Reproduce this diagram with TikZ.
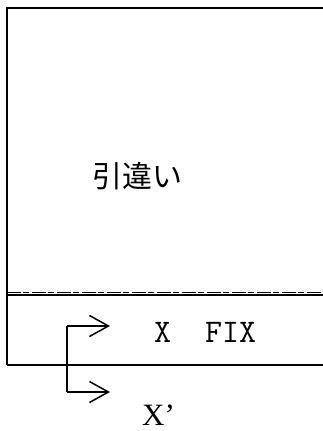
\documentclass[tikz,border=0pt]{standalone}
\usepackage{fontspec}
\setmainfont{Liberation Serif}
\newfontfamily\jpfont{Noto Sans CJK JP}
\usetikzlibrary{arrows.meta}
\begin{document}
\begin{tikzpicture}[x=1pt,y=-1pt,
  frame/.style={line width=1.8pt},
  sepline/.style={line width=1.6pt},
  shaft/.style={line width=1.3pt},
  arr/.style={shaft,-{Straight Barb[length=19pt,width=21pt,line width=1.5pt]}},
  lbl/.style={inner sep=0pt,anchor=base west}]
\useasboundingbox (0,0) rectangle (323,431);
\coordinate (tl) at (7,8);
\coordinate (tr) at (323,8);
\coordinate (bl) at (7,365);
\coordinate (br) at (323,365);
\coordinate (sl) at (7,295.2);
\coordinate (sr) at (323,295.2);
\coordinate (sl2) at (7,292.6);
\coordinate (sr2) at (323,292.6);
\draw[frame] (tr) -- (tl) -- (bl);
\draw[sepline] (sl) -- (sr);
\draw[line width=0.7pt,dash pattern=on 14pt off 2pt on 6pt off 3pt] (sl2) -- (sr2);
\draw[line width=1.5pt] (bl) -- (br);
\coordinate (a1) at (67,326);
\coordinate (a2) at (67,392);
\coordinate (e1) at (110,326);
\coordinate (e2) at (110,392);
\draw[shaft] (a1) -- (a2);
\draw[arr] (a1) -- (e1);
\draw[arr] (a2) -- (e2);
\node[lbl] (hik) at (92,187) {\jpfont\fontsize{30pt}{30pt}\selectfont 引違い};
\node[lbl] (fix) at (154,342) {\ttfamily\fontsize{33pt}{33pt}\selectfont X\ \ FIX};
\node[lbl] (xp) at (142,425) {\fontsize{31pt}{31pt}\selectfont X’};
\end{tikzpicture}
\end{document}
